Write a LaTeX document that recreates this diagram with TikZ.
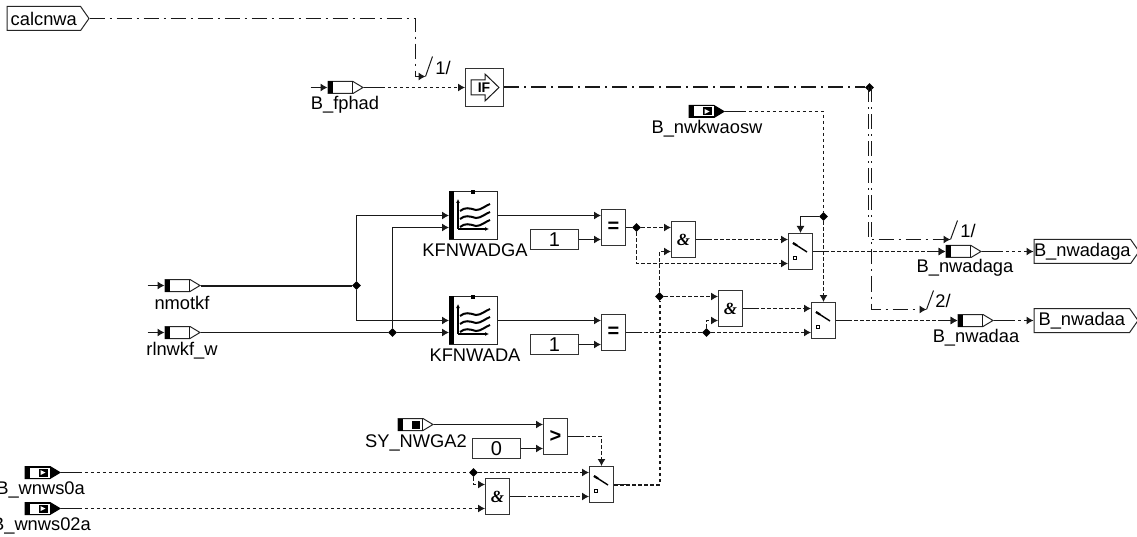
\documentclass[tikz,border=0pt]{standalone}
\usepackage{fontspec}
\setmainfont{Liberation Sans}
\newfontfamily\gatefont{Liberation Serif}
\usetikzlibrary{arrows.meta,shapes.geometric,shapes.symbols}

\begin{document}
\begin{tikzpicture}[x=1pt, y=-1pt, >={Latex[length=7pt,width=8pt]},
    font=\fontsize{18.3}{18.3}\selectfont,
    wire/.style={line width=1pt, black!90},
    sig/.style={wire, dash pattern=on 3.5pt off 2.5pt},
    ctrl/.style={wire, dash pattern=on 15pt off 5pt on 2pt off 5pt},
    junc/.style={diamond, fill=black, minimum size=9pt, inner sep=0pt},
    label/.style={inner sep=0pt},
    block/.style={rectangle, draw=black!80, fill=white, line width=1pt, minimum width=24pt, minimum height=36pt, inner sep=0pt, font=\fontsize{20}{20}\selectfont\bfseries},
    gate/.style={block, font=\fontsize{17}{17}\selectfont\gatefont\bfseries\itshape},
    const/.style={rectangle, draw=black!80, line width=1pt, minimum width=48pt, minimum height=20pt, inner sep=0pt, font=\fontsize{20}{20}\selectfont},
    terminal/.style={signal, anchor=west, draw=black!85, line width=1pt, fill=white, inner sep=0pt, minimum width=104pt, minimum height=24pt, signal pointer angle=110},
    portin/.style={signal, anchor=west, draw=black!85, line width=1pt, fill=white, inner sep=0pt, minimum width=35pt, minimum height=12pt, signal pointer angle=62},
    portext/.style={portin, draw=black, fill=black},
    mapblock/.style={rectangle, draw=black!85, fill=white, line width=1pt, minimum width=48pt, minimum height=48pt, inner sep=0pt},
    switch/.style={block}]

    \useasboundingbox (0,0) rectangle (1137,537);

    % Terminals
    \node[terminal, minimum width=82pt] (calcnwa) at (6.5,18.5) {calcnwa\hspace{8pt}};
    \node[terminal] (outaga) at (1033.5,251.5) {B\_nwadaga\hspace{6pt}};
    \node[terminal] (outaa) at (1033.5,320.5) {B\_nwadaa};

    % Ports
    \node[portin] (fphad) at (327.5,87.5) {};
    \node[label] (fphadlab) at (345,105) {B\_fphad};
    \node[portin] (nmotkf) at (164.5,285.5) {};
    \node[label] (nmotkflab) at (182,303) {nmotkf};
    \node[portin] (rlnwkf) at (164.5,332.5) {};
    \node[label] (rlnwkflab) at (182,351) {rlnwkf\_w};
    \node[portext] (nwkwaosw) at (688.5,111.5) {};
    \node[label] (nwkwaoswlab) at (707,129) {B\_nwkwaosw};
    \node[portin] (nwga) at (397.5,424.5) {};
    \node[label, anchor=east] (nwgalab) at (467,443) {SY\_NWGA2};
    \node[portext] (wnwsa) at (24.5,472.5) {};
    \node[label, anchor=east] (wnwsalab) at (85,490) {B\_wnws0a};
    \node[portext] (wnwsb) at (24.5,508.5) {};
    \node[label, anchor=east] (wnwsblab) at (91,526) {B\_wnws02a};
    \node[portin] (nwadaga) at (945.5,251.5) {};
    \node[label] (nwadagalab) at (965,268) {B\_nwadaga};
    \node[portin] (nwadaa) at (957.5,320.5) {};
    \node[label] (nwadaalab) at (976,338) {B\_nwadaa};

    % Port marks
    \foreach \n in {fphad,nmotkf,rlnwkf,nwga,nwadaga,nwadaa} {
        \begin{scope}[shift={(\n.west)}]
            \fill[black] (0,-6) rectangle (5,6);
            \draw[wire] (25,-6) -- (25,6);
        \end{scope}
    }
    \foreach \n in {nwkwaosw,wnwsa,wnwsb} {
        \begin{scope}[shift={(\n.west)}]
            \fill[white] (5,-5) rectangle (25,5);
            \fill[black] (14,-4) rectangle (23,4);
            \fill[white] (16,-2.5) -- (21,0) -- (16,2.5) -- cycle;
        \end{scope}
    }
    \begin{scope}[shift={(nwga.west)}]
        \fill[black] (14,-4) rectangle (22,4);
    \end{scope}

    % IF block
    \node[block, minimum width=38pt, minimum height=38pt] (ifblock) at (484.5,87.5) {};
    \draw[wire] (471,80) -- (485,80) -- (485,74) -- (499,87.5) -- (485,101) -- (485,95) -- (471,95) -- cycle;
    \node[inner sep=0pt, font=\fontsize{14}{14}\selectfont\bfseries] (iftext) at (484,87.5) {IF};

    % Maps
    \node[mapblock] (mapaga) at (473.5,215.5) {};
    \node[label] (mapagalab) at (475,250) {KFNWADGA};
    \node[mapblock] (mapaa) at (473.5,320.5) {};
    \node[label] (mapaalab) at (475,355) {KFNWADA};
    \foreach \n in {mapaga,mapaa} {
        \begin{scope}[shift={(\n.north west)}]
            \fill[black] (0,0) rectangle (5,48);
            \draw[->, line width=1.3pt, >={Latex[length=4pt,width=4pt]}] (9,38) -- (9,8);
            \draw[->, line width=1.3pt, >={Latex[length=4pt,width=4pt]}] (9,38) -- (40,38);
            \foreach \dy in {0,8,16}
                \draw[line width=2pt] (11,20+\dy) .. controls (16,16+\dy) and (20,17+\dy) .. (27,19+\dy) .. controls (32,19+\dy) and (36,15+\dy) .. (41,13+\dy);
            \fill[black] (22,-1) rectangle (26,3);
        \end{scope}
    }

    % Constants
    \node[const] (oneA) at (554.5,239.5) {1};
    \node[const] (oneB) at (554.5,344.5) {1};
    \node[const] (zero) at (496.5,448.5) {0};

    % Compare, logic and switch blocks
    \node[block] (eqA) at (613.5,227.5) {=};
    \node[block] (eqB) at (613.5,332.5) {=};
    \node[block] (gtA) at (555.5,436.5) {>};
    \node[gate] (andA) at (683.5,239.5) {\&};
    \node[gate] (andB) at (730.5,308.5) {\&};
    \node[gate] (andC) at (497.5,496.5) {\&};
    \node[switch] (swA) at (800.5,251.5) {};
    \node[switch] (swB) at (823.5,320.5) {};
    \node[switch] (swC) at (601.5,484.5) {};
    \foreach \n in {swA,swB,swC} {
        \begin{scope}[shift={(\n.north west)}]
            \draw[line width=1.4pt] (5,10) -- (19,19);
            \draw[line width=2.2pt] (5,10) -- (9,12.5);
            \draw[line width=.8pt] (5,23) rectangle (8,26);
        \end{scope}
    }

    % Input points of the blocks
    \foreach \n in {eqA,eqB,gtA,andA,andB,andC,swA,swB,swC} {
        \coordinate (\n-a) at ([yshift=12pt]\n.west);
        \coordinate (\n-b) at ([yshift=-12pt]\n.west);
    }
    \coordinate (mapaga-b) at ([yshift=-12pt]mapaga.west);
    \coordinate (mapaa-b) at ([yshift=-12pt]mapaa.west);

    % Branch points
    \node[junc] (jmot) at (356.5,285.5) {};
    \node[junc] (jrl) at (392.5,332.5) {};
    \node[junc] (jif) at (869.5,87.5) {};
    \node[junc] (jeq) at (636.5,227.5) {};
    \node[junc] (jsw) at (659.5,296.5) {};
    \node[junc] (jeqb) at (706.5,332.5) {};
    \node[junc] (josw) at (823.5,216.5) {};
    \node[junc] (jws) at (473.5,472.5) {};

    % Solid feeds in front of the ports
    \foreach \n in {fphad,nmotkf,rlnwkf,nwadaga,nwadaa}
        \draw[wire, ->] ([xshift=-17pt]\n.west) -- (\n.west);

    % Solid stubs behind ports and blocks
    \foreach \n in {fphad,nwkwaosw,wnwsa,wnwsb,nwadaga,nwadaa}
        \draw[wire] (\n.east) -- ++(20,0);
    \foreach \n in {eqB,gtA,andA,andB,andC,swA,swB,swC}
        \draw[wire] (\n.east) -- ++(14,0);

    % Map inputs
    \draw[wire, line width=2pt] (nmotkf.east) -- (jmot);
    \draw[wire] (rlnwkf.east) -- (jrl);
    \draw[wire, ->] (jmot) |- (mapaga.west);
    \draw[wire, ->] (jmot) |- (mapaa.west);
    \draw[wire, ->] (jrl) |- (mapaga-b);
    \draw[wire, ->] (jrl) -- (mapaa-b);

    % Map outputs and constants
    \draw[wire, ->] (mapaga.east) -- (eqA-a);
    \draw[wire, ->] (mapaa.east) -- (eqB-a);
    \draw[wire, ->] (oneA) -- (eqA-b);
    \draw[wire, ->] (oneB) -- (eqB-b);

    % Logic paths
    \draw[wire] (eqA.east) -- (jeq);
    \draw[sig, ->] (jeq) -- (andA-a);
    \draw[sig, ->] (jeq) |- (swA-b);
    \draw[sig, ->] (andA.east) -- (swA-a);
    \draw[sig, ->] (jsw) |- (andA-b);
    \draw[sig, ->] (jsw) -- (andB-a);
    \draw[sig] (eqB.east) -- (jeqb);
    \draw[sig, ->] (jeqb) -- (swB-b);
    \draw[sig, ->] (jeqb) |- (andB-b);
    \draw[sig, ->] (andB.east) -- (swB-a);

    % Switch control
    \coordinate (oswcorner) at (823.5,111.5);
    \draw[sig] (nwkwaosw.east) -- (oswcorner) -- (josw);
    \draw[sig, ->] (josw) -- (swB.north);
    \draw[wire, ->] (josw) -| (swA.north);

    % Lower part
    \draw[sig] (wnwsa.east) -- (jws);
    \draw[sig, ->] (jws) -- (swC-a);
    \draw[sig, ->] (jws) |- (andC-a);
    \draw[sig, ->] (wnwsb.east) -- (andC-b);
    \draw[sig, ->] (andC.east) -- (swC-b);
    \draw[wire, ->] (nwga.east) -- (gtA-a);
    \draw[wire, ->] (zero) -- (gtA-b);
    \draw[sig, ->] (gtA.east) -| (swC.north);
    \draw[sig, line width=2pt] (swC.east) -| (jsw);

    % Outputs
    \draw[sig, ->] (fphad.east) -- (ifblock.west);
    \draw[sig, ->] (swA.east) -- (nwadaga.west);
    \draw[sig, ->] (swB.east) -- (nwadaa.west);
    \draw[sig, ->] (nwadaga.east) -- (outaga.west);
    \draw[sig, ->] (nwadaa.east) -- (outaa.west);

    % Trigger lines
    \coordinate (bendif) at (415.5,76.5);
    \coordinate (trigif) at (425.5,76.5);
    \coordinate (trigaga) at (950.5,239.5);
    \coordinate (trigaa) at (926.5,309.5);
    \draw[ctrl, ->] (calcnwa.east) -| (bendif) -- (trigif);
    \draw[wire] (trigif) -- ++(7,-20);
    \node[label] (trigiflab) at (443,68) {1/};
    \draw[ctrl, line width=2pt] (ifblock.east) -- (jif);
    \draw[ctrl, ->] ([xshift=-1pt]jif.center) |- (trigaga);
    \draw[wire] (trigaga) -- ++(7,-19);
    \node[label] (trigagalab) at (968,231) {1/};
    \draw[ctrl, ->] ([xshift=2pt]jif.center) |- (trigaa);
    \draw[wire] (trigaa) -- ++(7,-19);
    \node[label] (trigaalab) at (943,301) {2/};
\end{tikzpicture}
\end{document}
